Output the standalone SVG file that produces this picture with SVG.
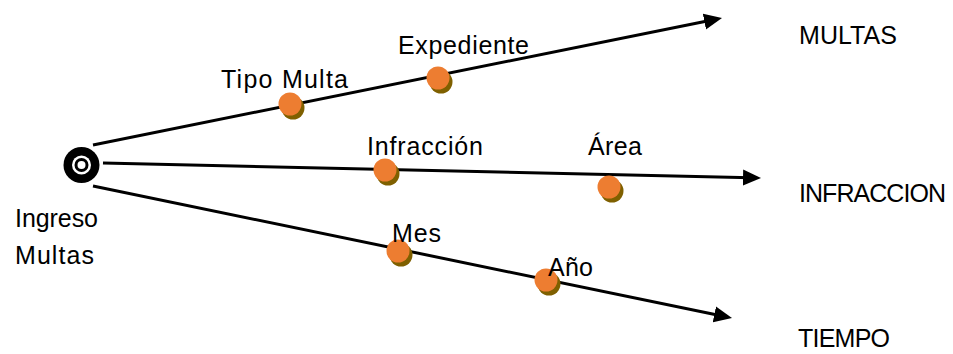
<svg xmlns="http://www.w3.org/2000/svg" width="953" height="354" viewBox="0 0 953 354">
<style>
text{font-family:"Liberation Sans",Arial,sans-serif;font-size:25px;fill:#000}
.ln{stroke:#000;stroke-width:3;fill:none}
.dot{fill:#ED7D31}
.sh{fill:#7F6000}
</style>
<defs>
<marker id="arr" markerUnits="userSpaceOnUse" markerWidth="19" markerHeight="18" refX="8" refY="9" orient="auto">
<path d="M0,1 L18,9 L0,17 z" fill="#000"/>
</marker>
<g id="pt"><circle class="sh" cx="3" cy="4" r="11.5"/><circle class="dot" cx="0" cy="0" r="11.5"/></g>
</defs>
<rect width="953" height="354" fill="#fff"/>
<g id="connectors">
<line class="ln" x1="93" y1="145" x2="712.2" y2="20" marker-end="url(#arr)"/>
<line class="ln" x1="103" y1="163" x2="751" y2="177.8" marker-end="url(#arr)"/>
<line class="ln" x1="93" y1="186" x2="722.2" y2="316" marker-end="url(#arr)"/>
</g>
<g id="ingreso">
<circle cx="81.5" cy="165" r="18" fill="#000"/>
<circle cx="81.5" cy="165" r="9.5" fill="#fff"/>
<circle cx="81.5" cy="165" r="7" fill="#000"/>
<circle cx="81.5" cy="165" r="4" fill="#fff"/>
<text x="15" y="227" textLength="83">Ingreso</text>
<text x="15" y="264" textLength="79">Multas</text>
</g>
<g id="tipo-multa"><use href="#pt" x="290" y="104"/><text x="221" y="88" textLength="127">Tipo Multa</text></g>
<g id="expediente"><use href="#pt" x="438" y="78"/><text x="398" y="54" textLength="131">Expediente</text></g>
<g id="infraccion-attr"><use href="#pt" x="385" y="170"/><text x="367" y="155" textLength="116">Infracción</text></g>
<g id="area"><use href="#pt" x="609" y="187"/><text x="588" y="155" textLength="54">Área</text></g>
<g id="mes"><use href="#pt" x="398" y="251"/><text x="392" y="242" textLength="49">Mes</text></g>
<g id="anio"><use href="#pt" x="546" y="280"/><text x="548" y="276" textLength="45">Año</text></g>
<g id="multas"><text x="799" y="44" textLength="98">MULTAS</text></g>
<g id="infraccion"><text x="799" y="202" textLength="147">INFRACCION</text></g>
<g id="tiempo"><text x="798" y="347" textLength="92">TIEMPO</text></g>
</svg>
